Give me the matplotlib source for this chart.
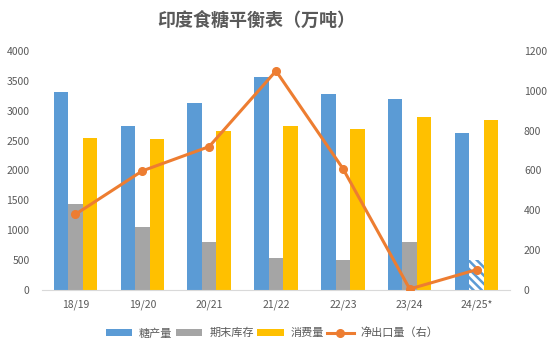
import numpy as np
import matplotlib
matplotlib.use("Agg")
import matplotlib.pyplot as plt

plt.rcParams['font.family'] = ['Noto Sans CJK SC', 'DejaVu Sans']
plt.rcParams['hatch.linewidth'] = 1.8

seasons = ["18/19", "19/20", "20/21", "21/22", "22/23", "23/24", "24/25*"]
production = [3310, 2745, 3130, 3570, 3280, 3200, 2630]
ending_stock = [1445, 1060, 810, 540, 510, 810, 500]
consumption = [2540, 2525, 2655, 2740, 2690, 2895, 2845]
net_export = [380, 598, 720, 1100, 610, 5, 102]

blue = "#5B9BD5"
grey = "#A5A5A5"
gold = "#FFC000"
orange = "#ED7D31"
txt = "#595959"

fig = plt.figure(figsize=(5.54, 3.54), dpi=100)
ax = fig.add_axes([42 / 554, 64 / 354, 468 / 554, 239 / 354])
ax2 = ax.twinx()

x = np.arange(len(seasons))
w = 0.217

ax.bar(x - w, production, w, color=blue, label="糖产量")
gb = ax.bar(x, ending_stock, w, color=grey, label="期末库存")
# last season is a forecast: hatched bar
gb[-1].set_facecolor("white")
gb[-1].set_edgecolor(blue)
gb[-1].set_hatch("\\\\\\\\")
gb[-1].set_linewidth(0)
ax.bar(x + w, consumption, w, color=gold, label="消费量")

ax2.plot(x, net_export, color=orange, lw=2.2, marker="o", ms=5.5,
         label="净出口量（右）", zorder=5)

ax.set_xlim(-0.5, len(seasons) - 0.5)
ax.set_ylim(0, 4000)
ax.set_yticks(range(0, 4001, 500))
ax2.set_ylim(0, 1200)
ax2.set_yticks(range(0, 1201, 200))
ax.set_xticks(x)
ax.set_xticklabels(seasons)

for a in (ax, ax2):
    for s in a.spines.values():
        s.set_visible(False)
    a.tick_params(length=0, labelsize=7.5, colors=txt)
ax.spines["bottom"].set_visible(True)
ax.spines["bottom"].set_color("#D9D9D9")
ax.tick_params(axis="y", pad=9)
ax.tick_params(axis="x", pad=7)
ax2.tick_params(axis="y", pad=10)

fig.text(256 / 554, 1 - 20 / 354, "印度食糖平衡表（万吨）", ha="center", va="center",
         fontsize=13, fontweight="bold", color=txt)

h1, l1 = ax.get_legend_handles_labels()
h2, l2 = ax2.get_legend_handles_labels()
fig.legend(h1 + h2, l1 + l2, loc="center", bbox_to_anchor=(272 / 554, 1 - 333 / 354),
           ncol=4, frameon=False, fontsize=8, labelcolor=txt, handlelength=2.4,
           handleheight=0.6, columnspacing=0.3, handletextpad=0.6)

fig.savefig("out.png", dpi=100)
